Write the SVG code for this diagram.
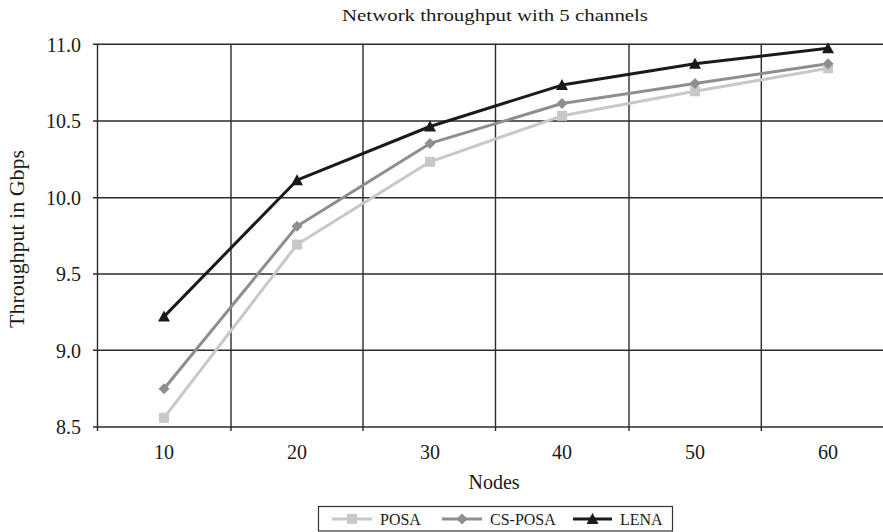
<svg xmlns="http://www.w3.org/2000/svg" width="883" height="532" viewBox="0 0 883 532">
<style>
text{font-family:"Liberation Serif","Times New Roman",serif;fill:#1a1a1a}
.tick{font-size:20px}
.grid{stroke:#2b2b2b;stroke-width:1.4;fill:none}
.posa{stroke:#c8c8c8;stroke-width:3;fill:none;stroke-linejoin:round}
.cs{stroke:#8e8e8e;stroke-width:3;fill:none;stroke-linejoin:round}
.lena{stroke:#1a1a1a;stroke-width:3;fill:none;stroke-linejoin:round}
.leg{font-size:16px}
</style>
<defs>
<rect id="sq" x="-5" y="-5" width="10" height="10" fill="#c8c8c8"/>
<path id="dm" d="M0,-5.5 L5.5,0 L0,5.5 L-5.5,0 Z" fill="#8e8e8e"/>
<path id="tr" d="M0,-6 L6,5 L-6,5 Z" fill="#1a1a1a"/>
</defs>
<rect width="883" height="532" fill="#fff"/>
<text x="495" y="21" font-size="17.5" text-anchor="middle" textLength="306" lengthAdjust="spacingAndGlyphs">Network throughput with 5 channels</text>
<g id="grid">
<path class="grid" d="M93,44.3H883 M93,121H883 M93,197.7H883 M93,274H883 M93,350.3H883 M93,427H883"/>
<path class="grid" d="M97.5,44.3V431 M231,44.3V431 M363,44.3V431 M495.5,44.3V431 M629,44.3V431 M761.3,44.3V431"/>
</g>
<g id="y-labels" class="tick" text-anchor="end">
<text x="81" y="51.5">11.0</text>
<text x="81" y="128">10.5</text>
<text x="81" y="205">10.0</text>
<text x="81" y="281">9.5</text>
<text x="81" y="357.5">9.0</text>
<text x="81" y="434">8.5</text>
</g>
<g id="x-labels" class="tick" text-anchor="middle">
<text x="164" y="459">10</text>
<text x="297" y="459">20</text>
<text x="430" y="459">30</text>
<text x="562" y="459">40</text>
<text x="695" y="459">50</text>
<text x="828" y="459">60</text>
</g>
<text x="494" y="489" font-size="20" text-anchor="middle">Nodes</text>
<text transform="translate(24,239) rotate(-90)" font-size="20" text-anchor="middle" textLength="178" lengthAdjust="spacingAndGlyphs">Throughput in Gbps</text>
<g id="connectors">
<polyline id="posa-line" class="posa" points="164,417.8 297,244.6 430,161.8 562,115.8 695,91.3 828,68.3"/>
<polyline id="cs-line" class="cs" points="164,388.7 297,226.2 430,143.4 562,103.5 695,83.6 828,63.7"/>
<polyline id="lena-line" class="lena" points="164,316.6 297,180.2 430,126.5 562,85.1 695,63.7 828,48.3"/>
</g>
<g id="posa-markers">
<use href="#sq" x="164" y="417.8"/><use href="#sq" x="297" y="244.6"/><use href="#sq" x="430" y="161.8"/><use href="#sq" x="562" y="115.8"/><use href="#sq" x="695" y="91.3"/><use href="#sq" x="828" y="68.3"/>
</g>
<g id="cs-markers">
<use href="#dm" x="164" y="388.7"/><use href="#dm" x="297" y="226.2"/><use href="#dm" x="430" y="143.4"/><use href="#dm" x="562" y="103.5"/><use href="#dm" x="695" y="83.6"/><use href="#dm" x="828" y="63.7"/>
</g>
<g id="lena-markers">
<use href="#tr" x="164" y="316.6"/><use href="#tr" x="297" y="180.2"/><use href="#tr" x="430" y="126.5"/><use href="#tr" x="562" y="85.1"/><use href="#tr" x="695" y="63.7"/><use href="#tr" x="828" y="48.3"/>
</g>
<g id="legend">
<rect x="318.5" y="506.5" width="354" height="24.5" fill="#fff" stroke="#333" stroke-width="1.2"/>
<path class="posa" d="M332,519H372"/><use href="#sq" x="352" y="519"/>
<text class="leg" x="380" y="524.5">POSA</text>
<path class="cs" d="M442,519H482"/><use href="#dm" x="462" y="519"/>
<text class="leg" x="490" y="524.5">CS-POSA</text>
<path class="lena" d="M573,519H612"/><use href="#tr" x="592.5" y="519"/>
<text class="leg" x="620" y="524.5">LENA</text>
</g>
</svg>
